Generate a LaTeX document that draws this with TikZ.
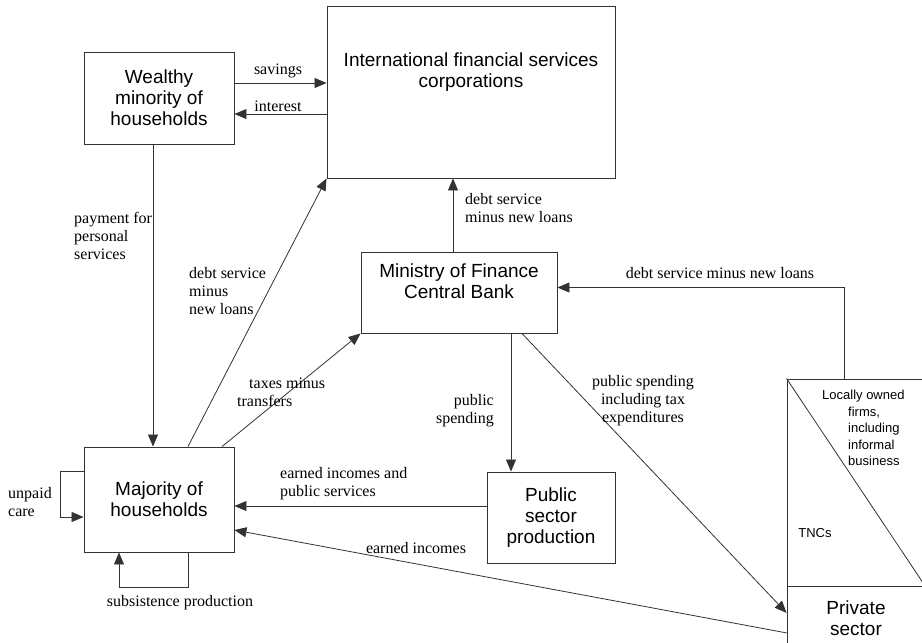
\documentclass[tikz,border=0pt]{standalone}
\usepackage{fontspec}
\setmainfont{Liberation Serif}
\setsansfont{Liberation Sans}
\usetikzlibrary{arrows.meta}

\begin{document}
\begin{tikzpicture}[x=1pt,y=-1pt,
	boxfont/.style={align=center,inner sep=0pt,font=\fontsize{19}{21}\sffamily},
	box/.style={boxfont,draw=black!80,line width=0.9pt},
	flow/.style={draw=black!80,line width=0.8pt,-{Triangle[length=12pt,width=10pt]}},
	lbl/.style={inner sep=0pt,font=\fontsize{16}{18}\selectfont},
	small/.style={inner sep=0pt,font=\fontsize{13}{16.5}\sffamily}]
	\useasboundingbox (0,0) rectangle (922,643);
	\clip (0,0) rectangle (922,643);
	
	% boxes
	\node[box,minimum width=150pt,minimum height=92pt] (wealthy) at (159,98) {Wealthy\\minority of\\households};
	\node[box,minimum width=288pt,minimum height=172pt] (ifsc) at (471,92) {};
	\node[boxfont] (ifsc-t) at ([yshift=20pt]ifsc.center) {International financial services\\corporations};
	\node[box,minimum width=196pt,minimum height=81pt] (mof) at (459,292.5) {};
	\node[boxfont] (mof-t) at ([yshift=11pt]mof.center) {Ministry of Finance\\Central Bank};
	\node[box,minimum width=150pt,minimum height=105pt] (majority) at (159,499.5) {Majority of\\households};
	\node[box,minimum width=128pt,minimum height=91pt] (public) at (551,517.5) {Public\\sector\\production};
	\node[box,minimum width=138pt,minimum height=207pt] (firms) at (856,482.5) {};
	\node[box,minimum width=138pt,minimum height=62pt,anchor=north] (privsec) at (firms.south) {Private\\sector};
	\draw[black!80,line width=0.8pt] (firms.north west) -- (firms.south east);
	\node[small,anchor=north west,align=left] (local) at (822,390) {Locally owned\\\hspace*{26pt}firms,\\\hspace*{26pt}including\\\hspace*{26pt}informal\\\hspace*{26pt}business};
	\node[small] (tnc) at (815,533) {TNCs};
	
	% flows
	\draw[flow] ([yshift=15pt]wealthy.east) -- ([yshift=15pt]wealthy.east -| ifsc.west);
	\draw[flow] ([yshift=-16pt]wealthy.east -| ifsc.west) -- ([yshift=-16pt]wealthy.east);
	\draw[flow] ([xshift=-6pt]wealthy.south) -- ([xshift=-6pt]majority.north);
	\draw[flow] ([xshift=29pt]majority.north) -- (ifsc.south west);
	\draw[flow] ([xshift=63pt]majority.north) -- (mof.south west);
	\draw[flow] ([xshift=-6pt]mof.north) -- ([xshift=-6pt]mof.north |- ifsc.south);
	\draw[flow] ([xshift=-12pt]firms.north) |- ([yshift=5pt]mof.east);
	\draw[flow] ([xshift=52pt]mof.south) -- ([xshift=52pt]mof.south |- public.north);
	\draw[flow] ([xshift=63pt]mof.south) -- ([yshift=5pt]privsec.west);
	\draw[flow] ([yshift=11.5pt]public.west) -- ([yshift=11.5pt]public.west -| majority.east);
	\draw[flow] ([yshift=-15pt]privsec.west) -- ([yshift=-30.5pt]majority.east);
	\draw[flow] ([yshift=28.5pt]majority.west) -- ++(-23pt,0pt) |- ([yshift=-17.5pt]majority.west);
	\draw[flow] ([xshift=29pt]majority.south) -- ++(0pt,-35pt) -| ([xshift=-40pt]majority.south);
	
	% labels
	\node[lbl] (sav-l) at (278,71) {savings};
	\node[lbl] (int-l) at (278,106) {interest};
	\node[lbl,align=left,anchor=west] (pay-l) at (74,236) {payment for\\personal\\services};
	\node[lbl,align=left,anchor=west] (debt1-l) at (189,291) {debt service\\minus\\new loans};
	\node[lbl,align=left,anchor=west] (tax-l) at (237,392) {\hspace*{12pt}taxes minus\\transfers};
	\node[lbl,align=left,anchor=west] (debt2-l) at (465,208) {debt service\\minus new loans};
	\node[lbl] (debt3-l) at (720,273) {debt service minus new loans};
	\node[lbl,align=right,anchor=east] (ps1-l) at (494,411) {public\\spending};
	\node[lbl,align=center] (ps2-l) at (643,401) {public spending\\including tax\\expenditures};
	\node[lbl,align=left,anchor=west] (eip-l) at (280,484) {earned incomes and\\public services};
	\node[lbl] (ei-l) at (416,548) {earned incomes};
	\node[lbl] (sub-l) at (180,603) {subsistence production};
	\node[lbl,align=left,anchor=west] (care-l) at (8,502) {unpaid\\care};
\end{tikzpicture}
\end{document}
